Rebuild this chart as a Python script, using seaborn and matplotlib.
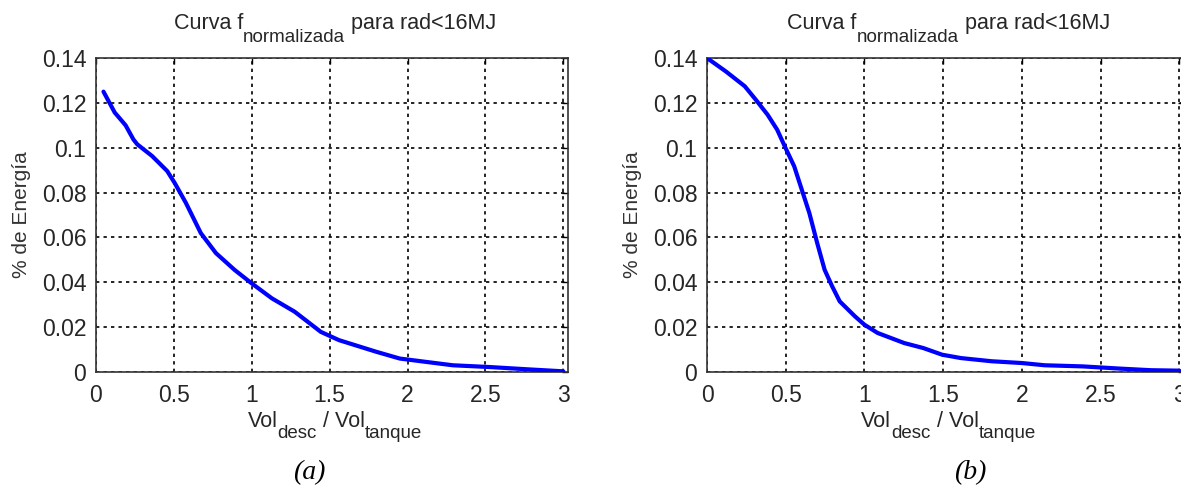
import numpy as np
import pandas as pd
import matplotlib
matplotlib.use("Agg")
import matplotlib.pyplot as plt
import seaborn as sns

# Data
xa = [0.048, 0.12, 0.19, 0.24, 0.265, 0.36, 0.457, 0.505, 0.577, 0.673, 0.77, 0.89,
      0.998, 1.13, 1.275, 1.443, 1.56, 1.80, 1.95, 2.04, 2.29, 2.53, 2.77, 3.0]
ya = [0.125, 0.1157, 0.110, 0.1037, 0.1015, 0.0963, 0.0896, 0.0843, 0.0754, 0.0619,
      0.053, 0.0455, 0.0396, 0.0328, 0.0269, 0.0179, 0.0142, 0.0090, 0.006, 0.0052,
      0.003, 0.0022, 0.0012, 0.0003]

xb = [0.0, 0.12, 0.24, 0.31, 0.385, 0.446, 0.494, 0.554, 0.602, 0.65, 0.70, 0.747,
      0.795, 0.843, 0.94, 1.0, 1.084, 1.253, 1.373, 1.494, 1.614, 1.807, 2.0, 2.145,
      2.386, 2.627, 2.82, 3.0]
yb = [0.14, 0.134, 0.1274, 0.1214, 0.1147, 0.108, 0.1006, 0.0917, 0.0813, 0.0709,
      0.0575, 0.0456, 0.0382, 0.0315, 0.0248, 0.0211, 0.0174, 0.0129, 0.0107, 0.0077,
      0.0062, 0.0048, 0.004, 0.003, 0.0025, 0.0015, 0.0008, 0.0006]

xticks = [0, 0.5, 1, 1.5, 2, 2.5, 3]
xticklabels = ["0", "0.5", "1", "1.5", "2", "2.5", "3"]
yticks = [0, 0.02, 0.04, 0.06, 0.08, 0.1, 0.12, 0.14]
yticklabels = ["0", "0.02", "0.04", "0.06", "0.08", "0.1", "0.12", "0.14"]
captions = ["(a)", "(b)"]
title_parts = [("Curva f", False), ("normalizada", True), (" para rad<16MJ", False)]
xlabel_parts = [("Vol", False), ("desc", True), (" / Vol", False), ("tanque", True)]
ylabel = "% de Energía"

sns.set_style("white")
plt.rcParams["font.family"] = ["Liberation Sans", "DejaVu Sans"]

W, H = 1181, 488
fig = plt.figure(figsize=(W / 100, H / 100), dpi=100)
fig.patch.set_facecolor("white")
renderer = fig.canvas.get_renderer()

TXT = "#262626"


def rich_text(parts, cx, base_y, main_size, sub_size, drop):
    """Place text pieces (with subscripts) centred at cx, baseline at base_y (pixels from top)."""
    arts = []
    widths = []
    for s, sub in parts:
        t = fig.text(0, 0, s, fontsize=sub_size if sub else main_size, color=TXT,
                     ha="left", va="baseline")
        widths.append(t.get_window_extent(renderer).width)
        arts.append((t, sub))
    total = sum(widths)
    x = cx - total / 2
    for (t, sub), w in zip(arts, widths):
        y = base_y + (drop if sub else 0)
        t.set_position((x / W, 1 - y / H))
        x += w


axes_px = [(96, 58, 568, 372), (707, 58, 1184, 372)]
datasets = [(xa, ya), (xb, yb)]
cap_x = [309, 970]
ylab_x = [22, 632]

for (l, t, r, b), (xs, ys), cx, cap, yl in zip(axes_px, datasets, cap_x, captions, ylab_x):
    ax = fig.add_axes([l / W, 1 - b / H, (r - l) / W, (b - t) / H])
    df = pd.DataFrame({"x": xs, "y": ys})
    sns.lineplot(data=df, x="x", y="y", ax=ax, color=(0, 0, 1), linewidth=3.0,
                 estimator=None, sort=False, zorder=3)
    ax.set_xlim(0, 3.03)
    ax.set_ylim(0, 0.14)
    ax.set_xticks(xticks)
    ax.set_xticklabels(xticklabels)
    ax.set_yticks(yticks)
    ax.set_yticklabels(yticklabels)
    ax.tick_params(direction="in", length=4, width=1, labelsize=16.5, color="black",
                   labelcolor=TXT, top=True, right=True)
    ax.tick_params(axis="y", pad=7)
    ax.tick_params(axis="x", pad=9)
    ax.grid(True, color="black", linestyle=(0, (2.0, 2.5)), linewidth=1.2, zorder=1)
    for s in ax.spines.values():
        s.set_color("#333333")
        s.set_linewidth(1.2)
        s.set_visible(True)
    ax.set_xlabel("")
    ax.set_ylabel(ylabel, fontsize=15, color="#333333", va="center")
    ax.yaxis.set_label_coords((yl - l) / (r - l), 0.5)

    axc = (l + r) / 2
    rich_text(title_parts, axc + 3, 29, 15.5, 13.5, 13)
    rich_text(xlabel_parts, axc + 3, 427, 15.5, 13.5, 11)
    fig.text(cx / W, 1 - 473 / H, cap, fontsize=20, fontstyle="italic",
             family="Liberation Serif", ha="center", va="center", color="black")

fig.savefig("out.png", dpi=100, facecolor="white")
